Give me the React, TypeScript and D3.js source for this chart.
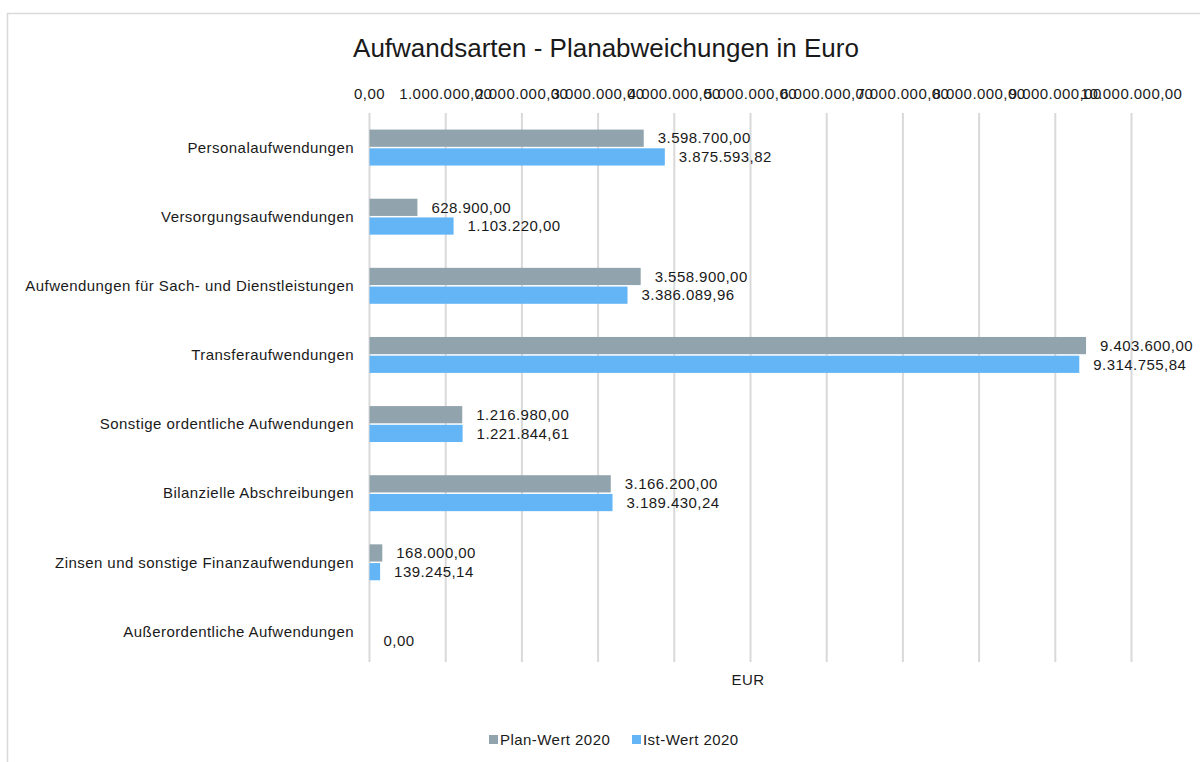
import React, { useEffect, useRef } from 'react';
import * as d3 from 'd3';

const categories = [
  'Personalaufwendungen',
  'Versorgungsaufwendungen',
  'Aufwendungen für Sach- und Dienstleistungen',
  'Transferaufwendungen',
  'Sonstige ordentliche Aufwendungen',
  'Bilanzielle Abschreibungen',
  'Zinsen und sonstige Finanzaufwendungen',
  'Außerordentliche Aufwendungen',
];

const planWerte: (number | null)[] = [3598700, 628900, 3558900, 9403600, 1216980, 3166200, 168000, null];
const istWerte: (number | null)[] = [3875593.82, 1103220, 3386089.96, 9314755.84, 1221844.61, 3189430.24, 139245.14, 0];

const seriesNames = ['Plan-Wert 2020', 'Ist-Wert 2020'];
const seriesColors = ['#91A3AD', '#64B5F6'];
const xTicks = d3.range(0, 10000001, 1000000);

const width = 1200;
const height = 762;
const margin = { top: 113, right: 68, bottom: 96, left: 369.5 };

const de = d3.formatLocale({ decimal: ',', thousands: '.', grouping: [3], currency: ['', ' €'] });
const fmt = de.format(',.2f');

export default function App() {
  const ref = useRef<SVGSVGElement>(null);

  useEffect(() => {
    const svg = d3.select(ref.current);
    svg.selectAll('*').remove();
    const font = 'Liberation Sans, Arial, sans-serif';
    const fs = 15;
    const ls = '0.45px';

    // outer chart frame
    svg.append('rect')
      .attr('x', 7.5).attr('y', 13.5)
      .attr('width', 1210).attr('height', 770)
      .attr('fill', '#fff')
      .attr('stroke', '#d9d9d9')
      .attr('stroke-width', 1.5);

    const x = d3.scaleLinear()
      .domain([0, 10000000])
      .range([margin.left, 1131.5]);

    const y = d3.scaleBand<string>()
      .domain(categories)
      .range([margin.top, 666])
      .paddingInner(0.48)
      .paddingOuter(0.24);

    const inner = d3.scaleBand<number>()
      .domain([0, 1])
      .range([0, y.bandwidth()])
      .paddingInner(0.08);

    // title
    svg.append('text')
      .attr('x', 606).attr('y', 57)
      .attr('text-anchor', 'middle')
      .attr('font-family', font)
      .attr('font-size', 26)
      .attr('fill', '#1a1a1a')
      .text('Aufwandsarten - Planabweichungen in Euro');

    // gridlines
    svg.append('g').selectAll('line')
      .data(xTicks)
      .join('line')
      .attr('x1', d => x(d)).attr('x2', d => x(d))
      .attr('y1', margin.top).attr('y2', 662)
      .attr('stroke', '#d9d9d9')
      .attr('stroke-width', 2);

    // top tick labels
    svg.append('g').selectAll('text')
      .data(xTicks)
      .join('text')
      .attr('x', d => x(d))
      .attr('y', 94)
      .attr('dy', '0.35em')
      .attr('text-anchor', 'middle')
      .attr('font-family', font)
      .attr('font-size', fs)
      .attr('letter-spacing', ls)
      .attr('fill', '#1a1a1a')
      .text(d => fmt(d));

    // category labels
    svg.append('g').selectAll('text')
      .data(categories)
      .join('text')
      .attr('x', 354)
      .attr('y', d => (y(d) as number) + y.bandwidth() / 2)
      .attr('dy', '0.35em')
      .attr('text-anchor', 'end')
      .attr('font-family', font)
      .attr('font-size', fs)
      .attr('letter-spacing', ls)
      .attr('fill', '#1a1a1a')
      .text(d => d);

    const series = [planWerte, istWerte];
    series.forEach((vals, si) => {
      const rows = categories.map((c, i) => ({ c, v: vals[i] })).filter(r => r.v !== null) as { c: string; v: number }[];
      const g = svg.append('g');
      g.selectAll('rect')
        .data(rows)
        .join('rect')
        .attr('x', x(0))
        .attr('y', d => (y(d.c) as number) + (inner(si) as number))
        .attr('width', d => x(d.v) - x(0))
        .attr('height', inner.bandwidth())
        .attr('fill', seriesColors[si]);
      g.selectAll('text')
        .data(rows)
        .join('text')
        .attr('x', d => x(d.v) + 14)
        .attr('y', d => (y(d.c) as number) + (inner(si) as number) + inner.bandwidth() / 2)
        .attr('dy', '0.35em')
        .attr('font-family', font)
        .attr('font-size', fs)
        .attr('letter-spacing', ls)
        .attr('fill', '#1a1a1a')
        .text(d => fmt(d.v));
    });

    // axis title
    svg.append('text')
      .attr('x', 748).attr('y', 680)
      .attr('dy', '0.35em')
      .attr('text-anchor', 'middle')
      .attr('font-family', font)
      .attr('font-size', fs)
      .attr('letter-spacing', ls)
      .attr('fill', '#1a1a1a')
      .text('EUR');

    // legend
    const legendX = [489, 632];
    const lg = svg.append('g');
    seriesNames.forEach((name, i) => {
      lg.append('rect')
        .attr('x', legendX[i]).attr('y', 735)
        .attr('width', 9).attr('height', 9)
        .attr('fill', seriesColors[i]);
      lg.append('text')
        .attr('x', legendX[i] + 11).attr('y', 740)
        .attr('dy', '0.35em')
        .attr('font-family', font)
        .attr('font-size', fs)
        .attr('letter-spacing', ls)
        .attr('fill', '#1a1a1a')
        .text(name);
    });
  }, []);

  return (
    <svg ref={ref} width={width} height={height}
         style={{ position: 'absolute', left: 0, top: 0, display: 'block' }} />
  );
}
